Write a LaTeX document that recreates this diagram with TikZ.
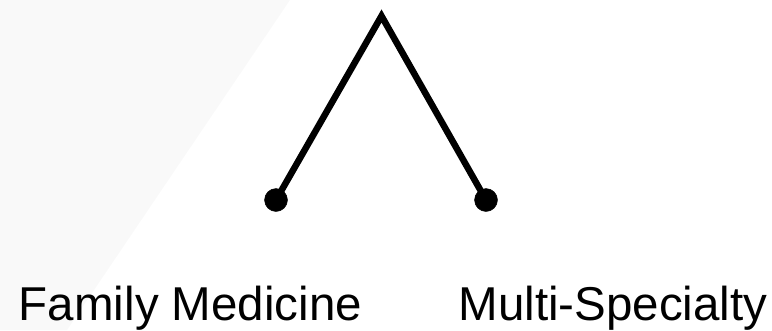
\documentclass[tikz,border=0pt]{standalone}
\usepackage{fontspec}
\setmainfont{Liberation Sans}
\usepackage{tikz}
\usetikzlibrary{arrows,calc,positioning}
\definecolor{bgpale}{HTML}{F9F9F9}
\tikzset{
        branch/.style = {draw, line width=6.5pt, line join=miter},
        leaf/.style = {draw, circle, fill=black, inner sep=0pt,
            minimum size=23pt},
        tag/.style = {anchor=base, inner sep=0pt,
            font=\fontsize{47.5}{57}\selectfont},
    }

\begin{document}
\begin{tikzpicture}[x=1pt,y=-1pt]
    \useasboundingbox (0,0) rectangle (772,330);
    \fill[bgpale] (0,0) -- (290,0) -- (67,330) -- (0,330) -- cycle;

    \coordinate (top) at (381.5,16);
    \node[leaf] (fm) at ($(top) + (-105.5,184)$) {};
    \node[leaf] (ms) at ($(top) + (104.5,184)$) {};

    \node[tag] (fmlabel) at (190.5,320) {Family Medicine};
    \node[tag] (mslabel) at (613,320) {Multi-Specialty};

    \draw[branch] (fm.center) -- (top) -- (ms.center);
\end{tikzpicture}
\end{document}
